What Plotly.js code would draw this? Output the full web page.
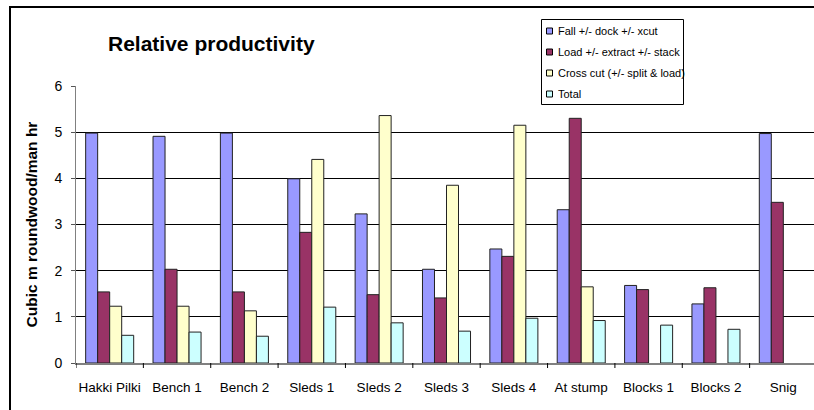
<!DOCTYPE html>
<html>
<head>
<meta charset="utf-8">
<script src="https://cdn.plot.ly/plotly-3.0.1.min.js"></script>
<style>
  html, body { margin: 0; padding: 0; background: #fff; overflow: hidden; width: 814px; height: 410px; }
  #chart { position: absolute; left: 0; top: 0; width: 830px; height: 410px; }
  #frame { position: absolute; left: 9px; top: 6px; width: 1000px; height: 1000px; border: 2px solid #000; pointer-events: none; box-sizing: border-box; }
</style>
</head>
<body>
<div id="chart"></div>
<div id="frame"></div>
<script>
const categories = ["Hakki Pilki", "Bench 1", "Bench 2", "Sleds 1", "Sleds 2", "Sleds 3", "Sleds 4", "At stump", "Blocks 1", "Blocks 2", "Snig"];
const seriesNames = ["Fall +/- dock +/- xcut", "Load +/- extract +/- stack", "Cross cut (+/- split & load)", "Total"];
const fallValues  = [4.98, 4.91, 4.98, 3.99, 3.23, 2.03, 2.47, 3.32, 1.68, 1.28, 4.97];
const loadValues  = [1.54, 2.03, 1.54, 2.83, 1.48, 1.41, 2.31, 5.30, 1.59, 1.63, 3.48];
const crossValues = [1.23, 1.23, 1.13, 4.41, 5.36, 3.85, 5.15, 1.65, null, null, null];
const totalValues = [0.60, 0.67, 0.58, 1.21, 0.87, 0.69, 0.97, 0.92, 0.82, 0.73, null];
const yTicks = [0, 1, 2, 3, 4, 5, 6];

const colors = ["#9999FF", "#993366", "#FFFFCC", "#CCFFFF"];
const allValues = [fallValues, loadValues, crossValues, totalValues];
const FONT = "Arial, 'Liberation Sans', sans-serif";

const W = 830, H = 410;
const M = { l: 76, r: 13, t: 86, b: 47 };
const PW = W - M.l - M.r, PH = H - M.t - M.b;
const px = x => (x - M.l) / PW;      // pixel -> paper x
const py = y => (H - M.b - y) / PH;  // pixel -> paper y

const traces = allValues.map((vals, i) => ({
  type: "bar",
  name: seriesNames[i],
  x: categories,
  y: vals,
  marker: { color: colors[i], line: { color: "#222", width: 1 } },
  hoverinfo: "x+y+name",
  showlegend: false
}));

const shapes = [];
// Category boundary tick marks (Excel style), placed in the x axis' own category units
for (let k = 0; k <= categories.length; k++) {
  shapes.push({
    type: "line", xref: "x", yref: "paper",
    x0: k - 0.5, x1: k - 0.5, y0: 0, y1: py(H - M.b + 5),
    line: { color: "#000", width: 1 }, layer: "above"
  });
}

// Legend drawn as a boxed key (Excel style)
const legBox = { x0: 541.5, x1: 683.5, y0: 19.5, y1: 104.5 };
const legRows = [31, 52, 73, 94];
shapes.push({
  type: "rect", xref: "paper", yref: "paper",
  x0: px(legBox.x0), x1: px(legBox.x1), y0: py(legBox.y1), y1: py(legBox.y0),
  fillcolor: "#fff", line: { color: "#000", width: 1 }, layer: "above"
});
const annotations = [];
seriesNames.forEach((name, i) => {
  const cy = legRows[i];
  shapes.push({
    type: "rect", xref: "paper", yref: "paper",
    x0: px(546.5), x1: px(552.5), y0: py(cy + 3), y1: py(cy - 3),
    fillcolor: colors[i], line: { color: "#000", width: 1 }, layer: "above"
  });
  annotations.push({
    xref: "paper", yref: "paper", x: px(556), y: py(cy),
    xanchor: "left", yanchor: "middle", showarrow: false,
    text: name, font: { family: FONT, size: 11, color: "#000" }
  });
});

const layout = {
  width: W,
  height: H,
  margin: { l: M.l, r: M.r, t: M.t, b: M.b, pad: 0 },
  paper_bgcolor: "#fff",
  plot_bgcolor: "#fff",
  barmode: "group",
  bargap: 0.287,
  bargroupgap: 0,
  font: { family: FONT, color: "#000" },
  showlegend: false,
  title: {
    text: "<b>Relative productivity</b>",
    font: { family: FONT, size: 21, color: "#000" },
    xref: "paper", x: px(108), xanchor: "left",
    yref: "container", y: 1 - 44 / H, yanchor: "middle"
  },
  xaxis: {
    type: "category",
    range: [-0.5, categories.length - 0.5],
    showline: true, linecolor: "#808080", linewidth: 2,
    ticks: "outside", ticklen: 11, tickcolor: "rgba(0,0,0,0)", tickwidth: 1,
    tickangle: 0,
    tickfont: { family: FONT, size: 13.5, color: "#000" },
    showgrid: false, zeroline: false
  },
  yaxis: {
    range: [0, 6],
    tickvals: yTicks,
    ticktext: yTicks.map(String),
    showline: true, linecolor: "#808080", linewidth: 1,
    ticks: "outside", ticklen: 4, tickcolor: "#555", tickwidth: 1,
    tickfont: { family: FONT, size: 14, color: "#000" },
    ticklabelstandoff: 6,
    showgrid: true, gridcolor: "#000", gridwidth: 1,
    zeroline: false,
    title: { text: "<b>Cubic m roundwood/man hr</b>", font: { family: FONT, size: 15.5, color: "#000" }, standoff: 12 }
  },
  shapes: shapes,
  annotations: annotations
};

Plotly.newPlot("chart", traces, layout, { displayModeBar: false, staticPlot: true });
</script>
</body>
</html>
